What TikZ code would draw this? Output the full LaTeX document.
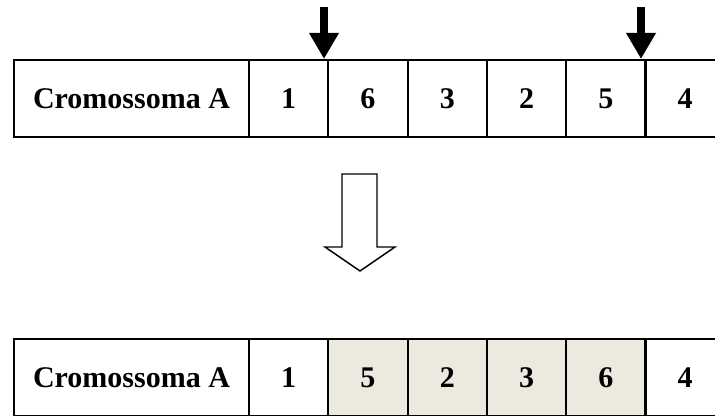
\documentclass[tikz,border=0pt]{standalone}
\usepackage{fontspec}
\setmainfont{Liberation Serif}
\usetikzlibrary{arrows.meta}
\definecolor{swapfill}{RGB}{236,233,223}
\begin{document}
\begin{tikzpicture}[x=0.75pt,y=-0.75pt,font=\fontsize{22.5}{25}\selectfont\bfseries,
    cell/.style={draw,line width=1.5pt,inner sep=0pt,minimum width=59.5pt,minimum height=57.75pt},
    namecell/.style={cell,minimum width=176.25pt},
    cutarrow/.style={line width=6.5pt,-{Triangle[width=21pt,length=19.5pt]}}]
    \useasboundingbox (0,0) rectangle (715,416);
    % parent chromosome
    \node[namecell] (topName) at (131.5,98.5) {Cromossoma A};
    \foreach \v [count=\i] in {1,6,3,2,5,4}
        \node[cell] (top\i) at ({249+79.3*(\i-0.5)},98.5) {\v};
    % cut points
    \coordinate (cutAstart) at (324,7);
    \coordinate (cutAend) at (324,59);
    \coordinate (cutBstart) at (641,7);
    \coordinate (cutBend) at (641,59);
    \draw[cutarrow] (cutAstart) -- (cutAend);
    \draw[cutarrow] (cutBstart) -- (cutBend);
    % hollow arrow
    \draw[line width=1.1pt,line join=miter] (342,174) -- (377,174) -- (377,247) -- (395,247)
        -- (360,271) -- (325,247) -- (342,247) -- cycle;
    % child chromosome
    \node[namecell] (botName) at (131.5,377.5) {Cromossoma A};
    \foreach \v [count=\i] in {1,5,2,3,6,4}{
        \ifnum\i>1 \ifnum\i<6
            \node[cell,fill=swapfill] (bot\i) at ({249+79.3*(\i-0.5)},377.5) {\v};
        \else
            \node[cell] (bot\i) at ({249+79.3*(\i-0.5)},377.5) {\v};
        \fi \else
            \node[cell] (bot\i) at ({249+79.3*(\i-0.5)},377.5) {\v};
        \fi
    }
\end{tikzpicture}
\end{document}
